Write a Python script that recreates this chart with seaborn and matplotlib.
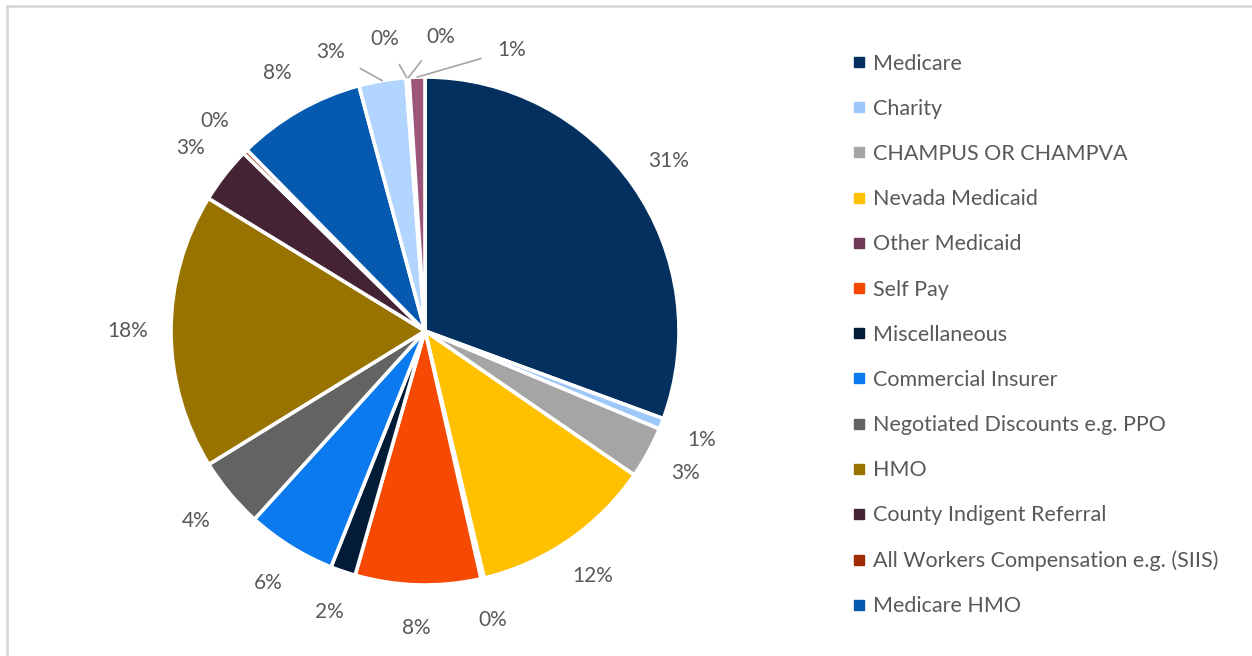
import numpy as np
import matplotlib
matplotlib.use("Agg")
import matplotlib.pyplot as plt
import seaborn as sns
from matplotlib.lines import Line2D
from matplotlib.patches import Rectangle

# Data (clockwise from 12 o'clock)
legend_names = ["Medicare", "Charity", "CHAMPUS OR CHAMPVA", "Nevada Medicaid",
                "Other Medicaid", "Self Pay", "Miscellaneous", "Commercial Insurer",
                "Negotiated Discounts e.g. PPO", "HMO", "County Indigent Referral",
                "All Workers Compensation e.g. (SIIS)", "Medicare HMO"]
slice_values = [30.7, 0.7, 3.3, 11.7, 0.2, 8.0, 1.6, 5.7, 4.5, 17.6, 3.6, 0.3, 8.2,
                3.0, 0.1, 0.1, 1.0]
slice_labels = ["31%", "1%", "3%", "12%", "0%", "8%", "2%", "6%", "4%", "18%", "3%",
                "0%", "8%", "3%", "0%", "0%", "1%"]

colors = ["#03305E", "#9DC8FA", "#A5A5A5", "#FFC000", "#713B5A", "#F64A04",
          "#021C38", "#0A7AEE", "#636363", "#987300", "#432334", "#9E2C04",
          "#055AB0", "#B1D5FF", "#C0C0C0", "#FFD34D", "#9B5578"]

# label angle overrides for the crowded slices at the top (with leader lines)
leader_angles = {13: 108.7, 14: 97.8, 15: 87.0, 16: 72.8}

sns.set_theme(style="white")
plt.rcParams["font.family"] = ["Lato", "DejaVu Sans"]
text_color = "#595959"
label_size = 15

W, H = 1252, 656
fig = plt.figure(figsize=(W / 100, H / 100), dpi=100)
fig.patch.set_facecolor("white")

cx, cy, R = 425, 331, 254
ax = fig.add_axes([(cx - R) / W, (H - cy - R) / H, 2 * R / W, 2 * R / H])
wedges, _ = ax.pie(slice_values, colors=colors, startangle=90, counterclock=False,
                   radius=1.0, wedgeprops=dict(edgecolor="white", linewidth=2.6))
ax.set_xlim(-1, 1)
ax.set_ylim(-1, 1)
ax.set_aspect("equal")
ax.axis("off")

for i, w in enumerate(wedges):
    mid = np.deg2rad((w.theta1 + w.theta2) / 2)
    if i in leader_angles:
        a = np.deg2rad(leader_angles[i])
        tx, ty = 1.16 * np.cos(a), 1.16 * np.sin(a)
        ex, ey = 1.0 * np.cos(mid), 1.0 * np.sin(mid)
        ax.annotate(slice_labels[i], xy=(ex, ey), xytext=(tx, ty), ha="center",
                    va="center", fontsize=label_size, color=text_color,
                    annotation_clip=False,
                    arrowprops=dict(arrowstyle="-", color="#A6A6A6", lw=1.2,
                                    shrinkA=10, shrinkB=0))
    else:
        r = 1.17
        ax.text(r * np.cos(mid), r * np.sin(mid), slice_labels[i], ha="center",
                va="center", fontsize=label_size, color=text_color, clip_on=False)

handles = [Line2D([0], [0], marker="s", linestyle="", markersize=7,
                  markerfacecolor=colors[i], markeredgecolor=colors[i])
           for i in range(len(legend_names))]
leg = fig.legend(handles, legend_names, loc="upper left",
                 bbox_to_anchor=(840 / W, 1 - 45 / H), frameon=False,
                 fontsize=15.5, labelspacing=1.17, handletextpad=0.15,
                 handlelength=1.0, borderaxespad=0)
for t in leg.get_texts():
    t.set_color(text_color)

# light chart border
fig.add_artist(Rectangle((7 / W, -0.01), 1.02, 1 - 6 / H + 0.01, transform=fig.transFigure,
                         fill=False, edgecolor="#D9D9D9", linewidth=2))

fig.savefig("out.png", dpi=100)
